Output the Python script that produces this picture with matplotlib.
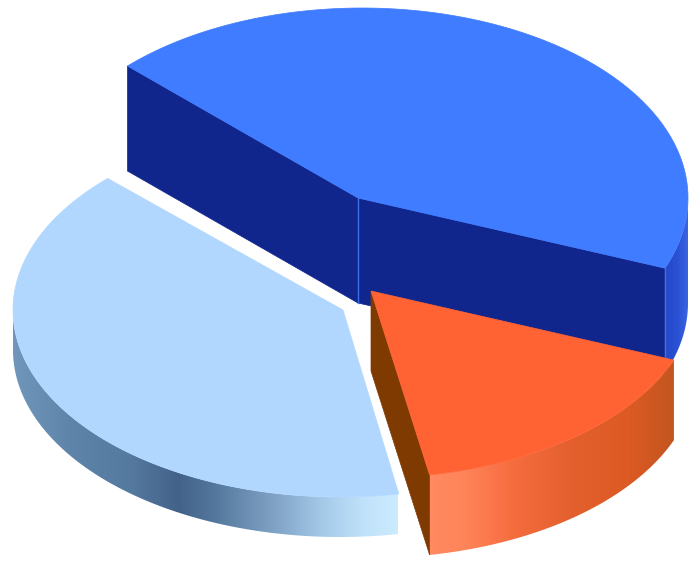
import numpy as np
import matplotlib
matplotlib.use('Agg')
import matplotlib.pyplot as plt
from matplotlib.colors import LinearSegmentedColormap
from matplotlib.patches import Polygon

# Slice shares in percent
labels = ['Blue', 'Orange', 'Light blue']
shares = [43.8, 16.1, 40.3]
depths = [105, 80, 40]

# Pie geometry in pixels, one entry per slice
start_angle = 136
apexes = [(358, 198), (371, 291), (343, 310)]
arc_centers = [(362, 198), (371, 291), (340, 310)]
radii_x = [326, 326, 327]
radii_y = [190, 187, 187]

top_colors = ['#3f7cff', '#ff6333', '#b2d7ff']
wall_colors = ['#10268c', '#7f3a02', None]
edge_line = '#3f6fe8'

# Gradient stops for the curved outer sides (x in pixels, colour)
blue_stops = [(663, '#2346c6'), (678, '#2a52d4'), (688, '#3a64e2')]
orange_stops = [(428, '#ff8a62'), (465, '#ff8459'), (515, '#f56c3e'), (570, '#e4602e'),
                (630, '#dc5a24'), (675, '#c2551f')]
light_stops = [(13, '#7097bb'), (70, '#5f84a9'), (130, '#557aa0'), (178, '#43628a'),
               (215, '#54779d'), (270, '#7c9fc2'), (325, '#a6cbea'), (365, '#c0e2fa'), (398, '#cbebfe')]

fig = plt.figure(figsize=(7, 5.67), dpi=100)
ax = fig.add_axes([0, 0, 1, 1])
ax.axis('off')


def arc(i, a0, a1, dy=0):
    t = np.radians(np.linspace(a0, a1, 200))
    cx, cy = arc_centers[i]
    return np.column_stack([cx + radii_x[i] * np.cos(t), cy - radii_y[i] * np.sin(t) + dy])


def gradient_side(i, a0, a1, stops, zorder):
    pts = np.vstack([arc(i, a0, a1), arc(i, a1, a0, depths[i])])
    poly = Polygon(pts, closed=True, fc='none', ec='none', transform=ax.transData)
    ax.add_patch(poly)
    x0, x1 = stops[0][0], stops[-1][0]
    cmap = LinearSegmentedColormap.from_list(
        'side', [((x - x0) / (x1 - x0), c) for x, c in stops])
    img = ax.imshow(np.linspace(0, 1, 256)[None, :], cmap=cmap, aspect='auto',
                    extent=[x0, x1, 567, 0], zorder=zorder, interpolation='bilinear')
    img.set_clip_path(poly)


def wall(i, angle, color, zorder):
    edge = arc(i, angle, angle)[0]
    apex = apexes[i]
    pts = [apex, edge, (edge[0], edge[1] + depths[i]), (apex[0], apex[1] + depths[i])]
    ax.add_patch(Polygon(pts, closed=True, fc=color, ec=color, lw=0.5, zorder=zorder))


def top(i, a0, a1, zorder):
    pts = np.vstack([[apexes[i]], arc(i, a0, a1)])
    ax.add_patch(Polygon(pts, closed=True, fc=top_colors[i], ec=top_colors[i], lw=0.5, zorder=zorder))


# Angles of the slice borders, going clockwise from the start
edges = start_angle - np.cumsum([0] + shares) * 3.6

# Blue slice: walls first, top over them
gradient_side(0, edges[1], 0, blue_stops, 1)
wall(0, edges[0], wall_colors[0], 2)
wall(0, edges[1], wall_colors[0], 2)
ax.plot([apexes[0][0]] * 2, [apexes[0][1], apexes[0][1] + depths[0]], color=edge_line, lw=1, zorder=3)
corner = arc(0, edges[1], edges[1])[0]
ax.plot([corner[0]] * 2, [corner[1], corner[1] + depths[0] - 12], color=edge_line, lw=1, zorder=3)
top(0, edges[1], edges[0], 4)

# Light slice, only its curved side shows
gradient_side(2, edges[2], -180, light_stops, 5)
top(2, edges[2], edges[3] + 360 - 360, 6)

# Orange slice
gradient_side(1, edges[2], edges[1], orange_stops, 7)
wall(1, edges[2], wall_colors[1], 8)
top(1, edges[2], edges[1], 9)

ax.set_xlim(0, 700)
ax.set_ylim(567, 0)
fig.savefig('out.png', dpi=100, facecolor='white')
